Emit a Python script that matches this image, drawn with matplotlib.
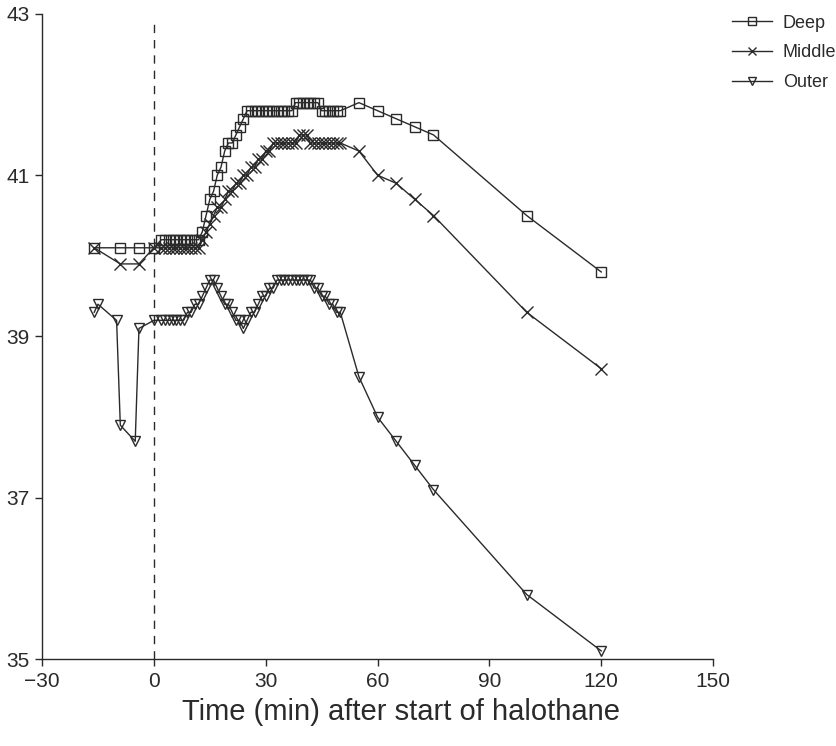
import matplotlib
matplotlib.use("Agg")
import matplotlib.pyplot as plt

plt.rcParams['font.family'] = ['Liberation Sans', 'DejaVu Sans']

# time points (min after start of halothane)
pre_time = [-16, -9, -4]
pre_time_outer = [-16, -15, -10, -9, -5, -4]
main_time = [0, 2, 3, 4, 5, 6, 7, 8, 9, 10, 11, 12, 13, 14, 15, 16, 17, 18, 19,
             20, 21, 22, 23, 24, 25, 26, 27, 28, 29, 30, 31, 32, 33, 34, 35, 36,
             37, 38, 39, 40, 41, 42, 43, 44, 45, 46, 47, 48, 49, 50]
late_time = [55, 60, 65, 70, 75, 100, 120]

# temperatures (deg C)
deep_pre = [40.1, 40.1, 40.1]
deep_main = [40.1, 40.2, 40.2, 40.2, 40.2, 40.2, 40.2, 40.2, 40.2, 40.2, 40.2, 40.2,
             40.3, 40.5, 40.7, 40.8, 41.0, 41.1, 41.3, 41.4, 41.4, 41.5, 41.6, 41.7,
             41.8, 41.8, 41.8, 41.8, 41.8, 41.8, 41.8, 41.8, 41.8, 41.8, 41.8, 41.8,
             41.8, 41.9, 41.9, 41.9, 41.9, 41.9, 41.9, 41.9, 41.8, 41.8, 41.8, 41.8,
             41.8, 41.8]
deep_late = [41.9, 41.8, 41.7, 41.6, 41.5, 40.5, 39.8]

middle_pre = [40.1, 39.9, 39.9]
middle_main = [40.1, 40.1, 40.1, 40.1, 40.1, 40.1, 40.1, 40.1, 40.1, 40.1, 40.1, 40.1,
               40.2, 40.3, 40.4, 40.5, 40.6, 40.6, 40.7, 40.8, 40.8, 40.9, 40.9, 41.0,
               41.0, 41.1, 41.1, 41.2, 41.2, 41.3, 41.3, 41.4, 41.4, 41.4, 41.4, 41.4,
               41.4, 41.4, 41.5, 41.5, 41.5, 41.4, 41.4, 41.4, 41.4, 41.4, 41.4, 41.4,
               41.4, 41.4]
middle_late = [41.3, 41.0, 40.9, 40.7, 40.5, 39.3, 38.6]

outer_pre = [39.3, 39.4, 39.2, 37.9, 37.7, 39.1]
outer_main = [39.2, 39.2, 39.2, 39.2, 39.2, 39.2, 39.2, 39.2, 39.3, 39.3, 39.4, 39.4,
              39.5, 39.6, 39.7, 39.7, 39.6, 39.5, 39.4, 39.4, 39.3, 39.2, 39.2, 39.1,
              39.2, 39.3, 39.3, 39.4, 39.5, 39.5, 39.6, 39.6, 39.7, 39.7, 39.7, 39.7,
              39.7, 39.7, 39.7, 39.7, 39.7, 39.7, 39.6, 39.6, 39.5, 39.5, 39.4, 39.4,
              39.3, 39.3]
outer_late = [38.5, 38.0, 37.7, 37.4, 37.1, 35.8, 35.1]

x_ticks = [-30, 0, 30, 60, 90, 120, 150]
y_ticks = [35, 37, 39, 41, 43]

ink = '#2a2a2a'

fig = plt.figure(figsize=(8.37, 7.46), dpi=100)
ax = fig.add_axes([0.0502, 0.1166, 0.8018, 0.8647])

series = [
    ('Deep', 's', 7, pre_time + main_time + late_time, deep_pre + deep_main + deep_late),
    ('Middle', 'x', 8, pre_time + main_time + late_time, middle_pre + middle_main + middle_late),
    ('Outer', 'v', 7, pre_time_outer + main_time + late_time, outer_pre + outer_main + outer_late),
]
for name, mk, ms, t, v in series:
    ax.plot(t, v, color=ink, lw=1.0, marker=mk, ms=ms, mfc='none',
            mec=ink, mew=1.0, label=name)

ax.axvline(0, ymax=0.985, color=ink, lw=1.0, ls=(0, (6, 5)))

ax.set_xlim(-30, 150)
ax.set_ylim(35, 43)
ax.set_xticks(x_ticks)
ax.set_yticks(y_ticks)
ax.set_xticklabels(['\u221230', '0', '30', '60', '90', '120', '150'])
ax.tick_params(direction='out', length=5, width=1.0, colors=ink, labelsize=15, pad=4)
for s in ['top', 'right']:
    ax.spines[s].set_visible(False)
for s in ['left', 'bottom']:
    ax.spines[s].set_color(ink)
    ax.spines[s].set_linewidth(1.0)

ax.set_xlabel('Time (min) after start of halothane', fontsize=21, color=ink, labelpad=10)
ax.xaxis.set_label_coords(0.535, -0.06)

fig.legend(loc='upper left', bbox_to_anchor=(0.862, 0.995), frameon=False,
           fontsize=13, handlelength=2.2, handletextpad=0.6, labelspacing=0.7,
           labelcolor=ink, markerscale=0.75, borderaxespad=0.2)

fig.savefig('out.png', dpi=100)
